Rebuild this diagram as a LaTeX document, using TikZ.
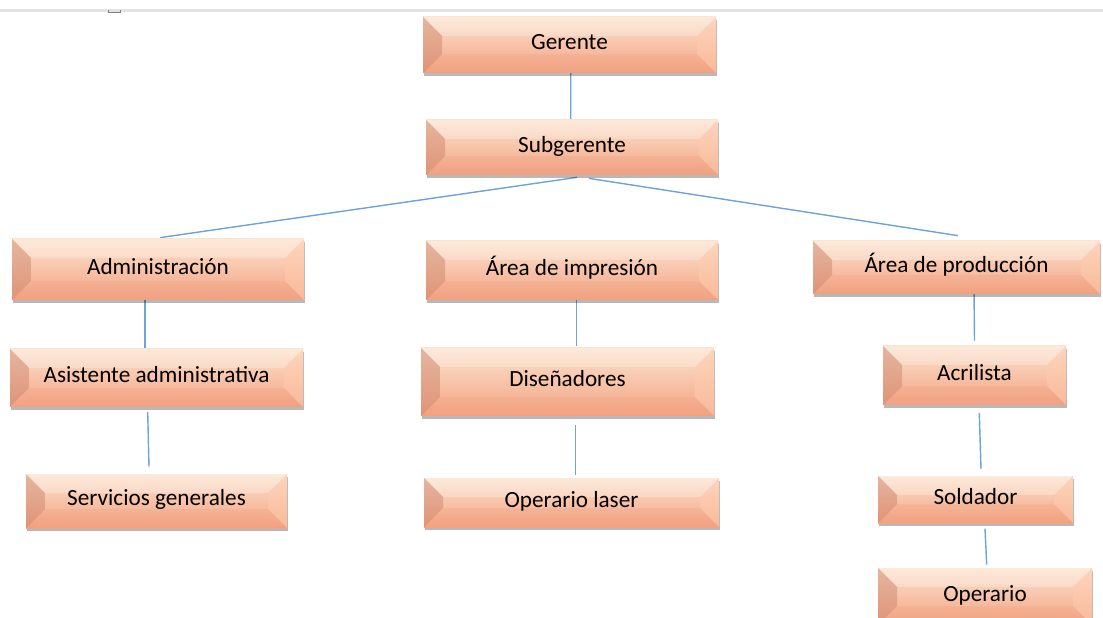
\documentclass[tikz,border=0pt]{standalone}
\usepackage{fontspec}
\setmainfont{Carlito}
\usetikzlibrary{calc,shadows,backgrounds}
\definecolor{bevtop}{HTML}{FCE2CE}
\definecolor{bevbot}{HTML}{F3A483}
\definecolor{bevL}{HTML}{C98068}
\definecolor{bevR}{HTML}{FFCBAE}
\definecolor{bevB}{HTML}{EE9574}
\definecolor{conncol}{HTML}{6FA3D8}
\definecolor{rulegray}{HTML}{E3E3E3}
\tikzset{
  box/.style 2 args={rectangle, inner sep=0pt,
    minimum width=#1*0.02cm, minimum height=#2*0.02cm,
    top color=bevtop, bottom color=bevbot,
    font=\fontsize{13.2}{15}\selectfont, text height=9.2pt, text depth=3.9pt,
    drop shadow={shadow xshift=0.6pt, shadow yshift=-1.8pt, fill=black, opacity=.28},
    path picture={
      \fill[white, opacity=.25] (path picture bounding box.north west) -- (path picture bounding box.north east)
        -- ([xshift=-0.38cm,yshift=-0.38cm]path picture bounding box.north east)
        -- ([xshift=0.38cm,yshift=-0.38cm]path picture bounding box.north west) -- cycle;
      \fill[bevB, opacity=.2] (path picture bounding box.south west) -- (path picture bounding box.south east)
        -- ([xshift=-0.38cm,yshift=0.38cm]path picture bounding box.south east)
        -- ([xshift=0.38cm,yshift=0.38cm]path picture bounding box.south west) -- cycle;
      \fill[bevL, opacity=.45] (path picture bounding box.north west)
        -- ([xshift=0.38cm,yshift=-0.38cm]path picture bounding box.north west)
        -- ([xshift=0.38cm,yshift=0.38cm]path picture bounding box.south west)
        -- (path picture bounding box.south west) -- cycle;
      \fill[bevR, opacity=.55] (path picture bounding box.north east)
        -- ([xshift=-0.38cm,yshift=-0.38cm]path picture bounding box.north east)
        -- ([xshift=-0.38cm,yshift=0.38cm]path picture bounding box.south east)
        -- (path picture bounding box.south east) -- cycle;
    }},
  conn/.style={draw=conncol, line width=0.8pt}
}
\begin{document}
\begin{tikzpicture}[x=0.02cm, y=-0.02cm]
\useasboundingbox (0,0) rectangle (1103,618);
\clip (0,0) rectangle (1103,618);
\draw[rulegray, line width=1.2pt] (0,10.5) -- (1103,10.5);
\draw[gray, line width=0.4pt] (108,10) -- (108,12.8) -- (120,12.8) -- (120,10);

\node[box={293}{56}] (ger) at (569.5,45) {Gerente};
\node[box={292}{55}] (sub) at (572,147.5) {Subgerente};
\node[box={292}{61}] (adm) at (158,269.5) {Administración};
\node[box={292}{59}] (imp) at (572,270.5) {Área de impresión};
\node[box={287}{53}] (pro) at (956.5,267.5) {Área de producción};
\node[box={293}{58}] (asi) at (156.5,378) {Asistente administrativa};
\node[box={293}{68}] (dis) at (567.5,382) {Diseñadores};
\node[box={183}{59}] (acr) at (974.5,375.5) {Acrilista};
\node[box={261}{54}] (ser) at (156.5,501) {Servicios generales};
\node[box={295}{49}] (opl) at (571.5,502.5) {Operario laser};
\node[box={195}{47}] (sol) at (975.5,499.5) {Soldador};
\node[box={214}{57}] (ope) at (985,596.5) {Operario};

\begin{scope}[on background layer]
\fill[white] (0,0) rectangle (1103,618);
\draw[conn] ($(ger.south)+(1.2,-2)$) -- ($(sub.north)+(-1.3,0)$);
\draw[conn] ($(sub.south)+(5,2)$) -- ($(adm.north)+(2,-1)$);
\draw[conn] ($(sub.south)+(17,3)$) -- ($(pro.north)+(1.5,-5)$);
\draw[conn] ($(adm.south)+(-13,-2)$) -- ($(asi.north)+(-11.5,-1)$);
\draw[conn] ($(asi.south)+(-8.8,4.7)$) -- ($(ser.north)+(-7.5,-7)$);
\draw[conn] ($(imp.south)+(4.7,-5)$) -- ($(dis.north)+(9.2,-2)$);
\draw[conn] ($(dis.south)+(8.2,9)$) -- ($(opl.north)+(4.2,-3)$);
\draw[conn] ($(pro.south)+(17.5,-4)$) -- ($(acr.north)+(0,-5)$);
\draw[conn] ($(acr.south)+(4.8,7.7)$) -- ($(sol.north)+(5.5,-6.7)$);
\draw[conn] ($(sol.south)+(9.5,5.3)$) -- ($(ope.north)+(1.7,-3)$);
\end{scope}
\end{tikzpicture}
\end{document}
